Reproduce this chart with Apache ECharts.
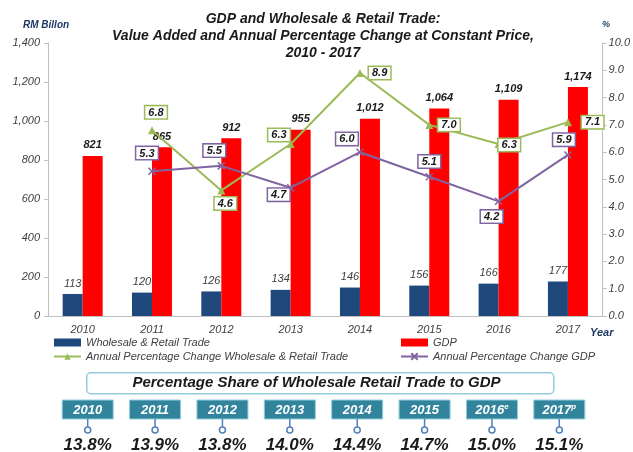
<!DOCTYPE html>
<html>
<head>
<meta charset="utf-8">
<script src="https://cdn.jsdelivr.net/npm/echarts@6/dist/echarts.min.js"></script>
<style>html,body{margin:0;padding:0;background:#fff}#c{width:633px;height:452px}</style>
</head>
<body>
<div id="c"></div>
<script>
const years = ['2010','2011','2012','2013','2014','2015','2016','2017'];
const wrValue = [113,120,126,134,146,156,166,177];
const gdpValue = [821,865,912,955,1012,1064,1109,1174];
const wrGrowth = ['-',6.8,4.6,6.3,8.9,7.0,6.3,7.1];
const gdpGrowth = ['-',5.3,5.5,4.7,6.0,5.1,4.2,5.9];
const shareYears = ['2010','2011','2012','2013','2014','2015','2016','2017'];
const shareSuffix = ['','','','','','','e','p'];
const sharePct = [13.8,13.9,13.8,14.0,14.4,14.7,15.0,15.1];

const FF = "'Liberation Sans', Arial, sans-serif";
const GREEN = '#9BBB59', PURPLE = '#8064A2';

// label placement styles (not data)
const wrLabelPos = [null,['top',[4,-3]],['bottom',[4,-2]],['left',[8,-9]],['right',[0,0]],['right',[0,0]],['right',[-9,1]],['right',[5,0]]];
const gdpLabelPos = [null,['top',[-5,-3]],['top',[-7,0]],['left',[8,7]],['top',[-13,2]],['top',[0,0]],['bottom',[-7,0]],['top',[-4,0]]];

function boxLabel(color){
  return {show:true, backgroundColor:'#fff', borderColor:color, borderWidth:1.5, padding:[1,3,0,3],
    color:'#1a1a1a', fontFamily:FF, fontStyle:'italic', fontWeight:'bold', fontSize:11,
    formatter:p=>Number(p.value).toFixed(1)};
}
function lineData(vals, pos){
  return vals.map((v,i)=> v==='-' ? '-' : {value:v, label:{position:pos[i][0], offset:pos[i][1]}});
}

const legendText = {fontFamily:FF, fontStyle:'italic', fontSize:11, color:'#404040'};

const chart = echarts.init(document.getElementById('c'), null, {renderer:'canvas'});
chart.setOption({
  animation:false,
  backgroundColor:'#fff',
  textStyle:{fontFamily:FF},
  title:{
    text:'GDP and Wholesale & Retail Trade:\nValue Added and Annual Percentage Change at Constant Price,\n2010 - 2017',
    left:318, textAlign:'center', top:6,
    textStyle:{fontFamily:FF, fontStyle:'italic', fontWeight:'bold', fontSize:14, lineHeight:17, color:'#1a1a1a'}
  },
  legend:[
    {orient:'vertical', left:53, top:337, padding:0, itemGap:3, itemWidth:27, itemHeight:8, textStyle:legendText,
     data:[{name:'Wholesale & Retail Trade', icon:'rect'}, {name:'Annual Percentage Change Wholesale & Retail Trade'}]},
    {orient:'vertical', left:400, top:337, padding:0, itemGap:3, itemWidth:27, itemHeight:8, textStyle:legendText,
     data:[{name:'GDP', icon:'rect'}, {name:'Annual Percentage Change GDP'}]}
  ],
  grid:[
    {left:48, right:29, top:43, bottom:136},
    {left:54, width:539, top:400, height:50}
  ],
  xAxis:[
    {type:'category', data:years, gridIndex:0,
     axisLine:{lineStyle:{color:'#bfbfbf'}}, axisTick:{lineStyle:{color:'#bfbfbf'}, length:5},
     axisLabel:{fontFamily:FF, fontStyle:'italic', fontSize:11, color:'#404040', margin:8}},
    {type:'category', data:shareYears, gridIndex:1, show:false}
  ],
  yAxis:[
    {type:'value', gridIndex:0, min:0, max:1400, interval:200, splitLine:{show:false},
     axisLine:{show:true, lineStyle:{color:'#bfbfbf'}}, axisTick:{show:true, length:4, lineStyle:{color:'#bfbfbf'}},
     axisLabel:{fontFamily:FF, fontStyle:'italic', fontSize:11, color:'#404040', margin:8,
       formatter:v=>v.toLocaleString('en-US')}},
    {type:'value', gridIndex:0, position:'right', min:0, max:10, interval:1, splitLine:{show:false},
     axisLine:{show:true, lineStyle:{color:'#bfbfbf'}}, axisTick:{show:true, length:4, lineStyle:{color:'#bfbfbf'}},
     axisLabel:{fontFamily:FF, fontStyle:'italic', fontSize:11, color:'#404040', margin:6,
       formatter:v=>v.toFixed(1)}},
    {type:'value', gridIndex:1, min:0, max:20, show:false}
  ],
  series:[
    {name:'Wholesale & Retail Trade', type:'bar', data:wrValue, barWidth:20, barGap:'0%',
     itemStyle:{color:'#1F497D'},
     label:{show:true, position:'top', fontFamily:FF, fontStyle:'italic', fontSize:11, color:'#404040'}},
    {name:'GDP', type:'bar', data:gdpValue, barWidth:20,
     itemStyle:{color:'#FF0000'},
     label:{show:true, position:'top', fontFamily:FF, fontStyle:'italic', fontWeight:'bold', fontSize:11, color:'#1a1a1a',
       formatter:p=>p.value.toLocaleString('en-US')}},
    {name:'Annual Percentage Change Wholesale & Retail Trade', type:'line', yAxisIndex:1,
     data:lineData(wrGrowth, wrLabelPos), symbol:'triangle', symbolSize:8,
     lineStyle:{color:GREEN, width:2}, itemStyle:{color:GREEN}, label:boxLabel(GREEN), z:5},
    {name:'Annual Percentage Change GDP', type:'line', yAxisIndex:1,
     data:lineData(gdpGrowth, gdpLabelPos), symbol:'path://M0,0L10,10M10,0L0,10', symbolSize:7,
     lineStyle:{color:PURPLE, width:2}, itemStyle:{color:PURPLE, borderColor:PURPLE, borderWidth:1.5}, label:boxLabel(PURPLE), z:5},
    {type:'custom', xAxisIndex:1, yAxisIndex:2, silent:true,
     data:shareYears.map((y,i)=>[i, sharePct[i]]),
     renderItem:function(params, api){
       const i = api.value(0);
       const x = api.coord([i, 0])[0];
       const top = params.coordSys.y;
       const suf = shareSuffix[i];
       return {type:'group', children:[
         {type:'rect', shape:{x:x-25.5, y:top, width:51, height:19}, style:{fill:'#31849B', stroke:'#92CDDC', lineWidth:1}},
         {type:'text', style:{x:x, y:top+10, align:'center', verticalAlign:'middle',
            text: suf ? '{a|'+shareYears[i]+'}{s|'+suf+'}' : '{a|'+shareYears[i]+'}',
            rich:{a:{fill:'#fff', fontFamily:FF, fontStyle:'italic', fontWeight:'bold', fontSize:13},
                  s:{fill:'#fff', fontFamily:FF, fontStyle:'italic', fontWeight:'bold', fontSize:8, padding:[0,0,6,0]}}}},
         {type:'line', shape:{x1:x, y1:top+19, x2:x, y2:top+27}, style:{stroke:'#4F81BD', lineWidth:1.5}},
         {type:'circle', shape:{cx:x, cy:top+30, r:3}, style:{stroke:'#4F81BD', fill:'#fff', lineWidth:1.5}},
         {type:'text', style:{x:x, y:top+45, align:'center', verticalAlign:'middle',
            text: api.value(1).toFixed(1)+'%', fill:'#1a1a1a',
            font:"italic bold 17px 'Liberation Sans', Arial, sans-serif"}}
       ]};
     }}
  ],
  graphic:[
    {type:'text', left:23, top:20, style:{text:'RM Billon', fill:'#1F3864', font:"italic bold 10px 'Liberation Sans', Arial"}},
    {type:'text', left:602, top:20, style:{text:'%', fill:'#1F3864', font:"italic bold 9px 'Liberation Sans', Arial"}},
    {type:'text', left:590, top:327, style:{text:'Year', fill:'#1F3864', font:"italic bold 11px 'Liberation Sans', Arial"}},
    {type:'rect', left:86, top:372, shape:{width:467, height:21, r:4}, style:{fill:'#fff', stroke:'#92CDDC', lineWidth:1.5}},
    {type:'text', left:'center', top:375, style:{text:'Percentage Share of Wholesale Retail Trade to GDP', fill:'#1a1a1a',
      font:"italic bold 15px 'Liberation Sans', Arial"}}
  ]
});
</script>
</body>
</html>
